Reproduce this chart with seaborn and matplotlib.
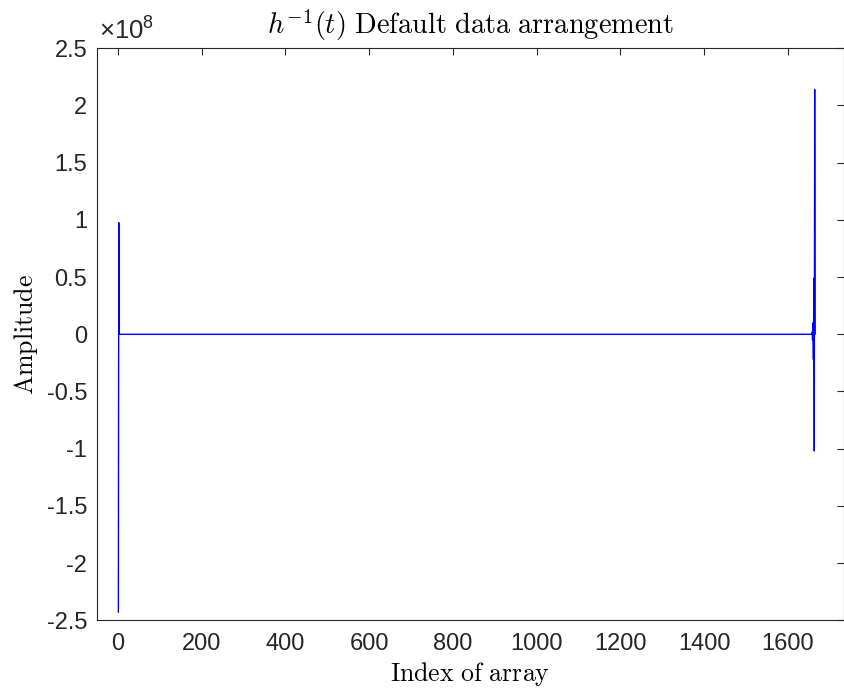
import numpy as np
import pandas as pd
import matplotlib
matplotlib.use("Agg")
import matplotlib.pyplot as plt
import seaborn as sns
from matplotlib.ticker import FuncFormatter, FixedLocator

# Inverse filter response h^{-1}(t): zero except at the two ends of the array
n_samples = 1665
head_index = [1, 2, 3]
head_value = [-2.43e8, 0.976e8, 0.0]
tail_index = [1657, 1658, 1659, 1660, 1661, 1662, 1663, 1664, 1665]
tail_value = [0.0, 0.02e8, -0.05e8, 0.10e8, -0.22e8, 0.49e8, -1.02e8, 2.14e8, 0.0]

x_ticks = [0, 200, 400, 600, 800, 1000, 1200, 1400, 1600]
y_ticks = [-2.5e8, -2e8, -1.5e8, -1e8, -0.5e8, 0, 0.5e8, 1e8, 1.5e8, 2e8, 2.5e8]

amplitude = np.zeros(n_samples)
amplitude[np.array(head_index) - 1] = head_value
amplitude[np.array(tail_index) - 1] = tail_value
df = pd.DataFrame({"index": np.arange(1, n_samples + 1), "amplitude": amplitude})

sns.set_style("white")
plt.rcParams["font.family"] = ["Liberation Sans", "DejaVu Sans"]
plt.rcParams["mathtext.fontset"] = "custom"
plt.rcParams["mathtext.rm"] = "Liberation Sans"
plt.rcParams["mathtext.it"] = "Liberation Sans:italic"

ink = "#262626"
fig = plt.figure(figsize=(8.45, 6.91), dpi=100)
ax = fig.add_axes([97 / 845, 1 - 620.3 / 691, (844 - 97) / 845, (620.3 - 48.3) / 691])

sns.lineplot(data=df, x="index", y="amplitude", ax=ax, color=(0, 0, 1),
             linewidth=1.0, estimator=None, sort=False)

ax.set_xlim(-50, 1734)
ax.set_ylim(-2.5e8, 2.5e8)
ax.xaxis.set_major_locator(FixedLocator(x_ticks))
ax.yaxis.set_major_locator(FixedLocator(y_ticks))
ax.yaxis.set_major_formatter(FuncFormatter(lambda v, p: ("%g" % (v / 1e8)).replace("\u2212", "-")))
ax.xaxis.set_major_formatter(FuncFormatter(lambda v, p: "%d" % v))

ax.tick_params(direction="in", length=5, width=0.8, colors=ink, labelsize=17,
               top=True, right=True, labeltop=False, labelright=False)
ax.tick_params(axis="x", pad=9)
ax.tick_params(axis="y", pad=7)
for s in ax.spines.values():
    s.set_visible(True)
    s.set_color(ink)
    s.set_linewidth(0.8)

ax.set_xlabel(r"$\mathrm{Index\ of\ array}$", fontsize=18.6, color="black",
              math_fontfamily="cm", labelpad=4)
ax.set_ylabel(r"$\mathrm{Amplitude}$", fontsize=18.6, color="black",
              math_fontfamily="cm", labelpad=5)
ax.set_title(r"$h^{-1}(t)\ \mathrm{Default\ data\ arrangement}$", fontsize=20.4,
             color="black", math_fontfamily="cm", pad=10)

# exponent label of the y axis
ax.text(0.003, 1.006, "\u00d710$^{8}$", transform=ax.transAxes, fontsize=18.5,
        color=ink, ha="left", va="bottom")

fig.savefig("out.png", dpi=100)
